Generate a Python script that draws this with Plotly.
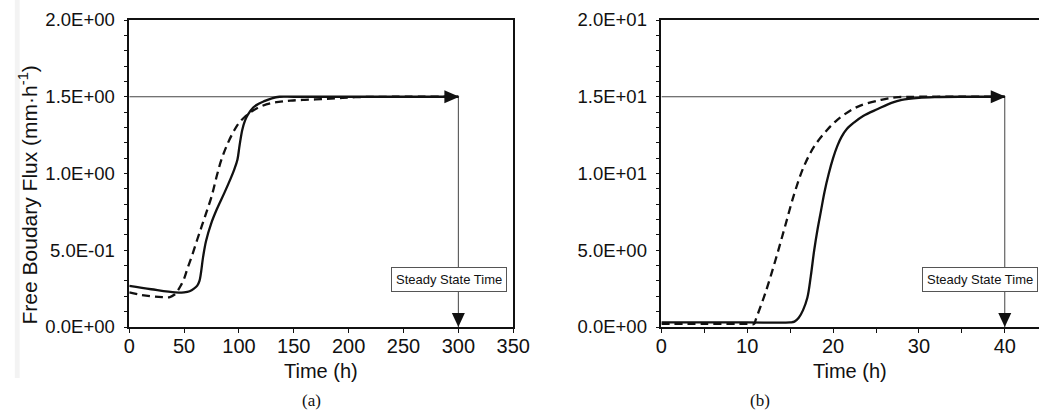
import plotly.graph_objects as go

# ---------------- data ----------------
# Panel (a)
a_solid_t = [0, 20, 42, 50, 55, 59, 62, 64, 67.4, 70, 74.8, 80, 86.6, 92, 95.6, 98.6, 100.5, 103, 105.5, 108, 113, 118, 122.4, 130, 137, 150, 200, 250, 300]
a_solid_v = [0.268, 0.246, 0.225, 0.226, 0.233, 0.25, 0.27, 0.30, 0.46, 0.56, 0.677, 0.77, 0.872, 0.96, 1.024, 1.09, 1.18, 1.284, 1.345, 1.382, 1.43, 1.455, 1.469, 1.49, 1.50, 1.50, 1.50, 1.50, 1.50]
a_dash_t = [0, 10, 20, 30, 37, 41, 44, 47, 50, 53, 57, 62, 66, 70, 75, 80, 84, 90, 96, 100, 104, 109, 114, 121, 129, 138, 147, 160, 175, 190, 206, 240, 300]
a_dash_v = [0.225, 0.21, 0.2, 0.195, 0.195, 0.21, 0.235, 0.27, 0.315, 0.38, 0.46, 0.57, 0.655, 0.74, 0.85, 0.99, 1.09, 1.2, 1.285, 1.33, 1.36, 1.39, 1.415, 1.44, 1.458, 1.468, 1.475, 1.48, 1.484, 1.49, 1.497, 1.5, 1.5]

# Panel (b)
b_solid_t = [0, 5, 10, 15, 15.5, 16, 16.5, 17, 17.4, 17.8, 18.2, 18.6, 19.0, 19.5, 20.0, 20.5, 21.0, 21.6, 22.5, 23.5, 25.2, 26.8, 28, 30, 32, 35, 40]
b_solid_v = [0.3, 0.3, 0.3, 0.3, 0.35, 0.6, 1.1, 1.9, 3.3, 5.0, 6.4, 7.6, 8.8, 10.0, 11.0, 11.8, 12.4, 12.9, 13.35, 13.75, 14.2, 14.6, 14.8, 14.93, 14.98, 15.0, 15.0]
b_dash_t = [0, 5, 10, 10.8, 11.0, 12.1, 13.3, 14.4, 15.5, 16.6, 17.8, 19.3, 20.3, 21.2, 22.9, 25.6, 27.6, 30, 35, 40]
b_dash_v = [0.2, 0.2, 0.2, 0.2, 0.5, 2.2, 4.38, 6.55, 8.72, 10.46, 11.76, 12.84, 13.4, 13.8, 14.36, 14.8, 14.97, 15.0, 15.0, 15.0]

# axes / ticks
a_x_ticks = [0, 50, 100, 150, 200, 250, 300, 350]
a_y_ticks = [0, 0.5, 1.0, 1.5, 2.0]
a_y_text = ["0.0E+00", "5.0E-01", "1.0E+00", "1.5E+00", "2.0E+00"]
b_x_ticks = [0, 10, 20, 30, 40]
b_y_ticks = [0, 5, 10, 15, 20]
b_y_text = ["0.0E+00", "5.0E+00", "1.0E+01", "1.5E+01", "2.0E+01"]

# steady state markers
a_ss_time, a_ss_flux = 300, 1.5
b_ss_time, b_ss_flux = 40, 15
label_ss = "Steady State Time"

# ---------------- figure ----------------
W, H = 1056, 417
FONT = "Liberation Sans, Arial, sans-serif"
INK = "#111111"

fig = go.Figure()

line_solid = dict(color=INK, width=2.3)
line_dash = dict(color=INK, width=2.3, dash="8px,5px")

for (xa, ya, t_ss, f_ss) in [("x", "y", a_ss_time, a_ss_flux), ("x2", "y2", b_ss_time, b_ss_flux)]:
    fig.add_trace(go.Scatter(x=[0, t_ss], y=[f_ss, f_ss], mode="lines",
                             line=dict(color="#444444", width=1), xaxis=xa, yaxis=ya,
                             showlegend=False, hoverinfo="skip"))
    fig.add_trace(go.Scatter(x=[t_ss, t_ss], y=[f_ss, 0], mode="lines",
                             line=dict(color="#444444", width=1), xaxis=xa, yaxis=ya,
                             showlegend=False, hoverinfo="skip"))

fig.add_trace(go.Scatter(x=a_dash_t, y=a_dash_v, mode="lines", line=line_dash,
                         line_shape="spline", xaxis="x", yaxis="y", showlegend=False))
fig.add_trace(go.Scatter(x=a_solid_t, y=a_solid_v, mode="lines", line=line_solid,
                         line_shape="spline", xaxis="x", yaxis="y", showlegend=False))
fig.add_trace(go.Scatter(x=b_dash_t, y=b_dash_v, mode="lines", line=line_dash,
                         line_shape="spline", xaxis="x2", yaxis="y2", showlegend=False))
fig.add_trace(go.Scatter(x=b_solid_t, y=b_solid_v, mode="lines", line=line_solid,
                         line_shape="spline", xaxis="x2", yaxis="y2", showlegend=False))

shapes = []
for (xr, yr, t_ss, f_ss) in [("x", "y", a_ss_time, a_ss_flux), ("x2", "y2", b_ss_time, b_ss_flux)]:
    shapes.append(dict(type="path", xref=xr, yref=yr, xsizemode="pixel", ysizemode="pixel",
                       xanchor=t_ss, yanchor=f_ss, path="M 1 0 L -14 6.5 L -14 -6.5 Z",
                       fillcolor=INK, line=dict(width=0)))
    shapes.append(dict(type="path", xref=xr, yref=yr, xsizemode="pixel", ysizemode="pixel",
                       xanchor=t_ss, yanchor=0, path="M 0 0 L -6.5 14 L 6.5 14 Z",
                       fillcolor=INK, line=dict(width=0)))
# faint scan border at far left
shapes.append(dict(type="rect", xref="paper", yref="paper", x0=9 / W, x1=14 / W,
                   y0=(327 - 378) / 307, y1=1 + 20 / 307,
                   fillcolor="#f3f3f3", line=dict(width=0), layer="below"))

common_axis = dict(showline=True, linecolor=INK, linewidth=1.5, ticks="outside",
                   ticklen=4, tickwidth=1.2, tickcolor=INK, showgrid=False, zeroline=False)
xfont = dict(family=FONT, size=20, color=INK)
yfont = dict(family=FONT, size=18.5, color=INK)

fig.update_layout(
    width=W, height=H,
    margin=dict(l=0, r=0, t=20, b=90),
    plot_bgcolor="white", paper_bgcolor="white",
    xaxis=dict(common_axis, domain=[126 / W, 518.5 / W], range=[0, 350], mirror=True,
               tickmode="array", tickvals=a_x_ticks, anchor="y", ticklabelstandoff=-4, tickfont=xfont),
    yaxis=dict(common_axis, domain=[0, 1], range=[0, 2.0], mirror=True,
               tickmode="array", tickvals=a_y_ticks, ticktext=a_y_text, anchor="x", tickfont=yfont,
               minor=dict(dtick=0.1, tick0=0, ticks="outside", ticklen=4, tickcolor=INK, tickwidth=1.2),
               ticklabelstandoff=5),
    xaxis2=dict(common_axis, domain=[670 / W, 1.0], range=[0, 386 / 8.775], mirror=True,
                tickmode="array", tickvals=b_x_ticks, anchor="y2", ticklabelstandoff=-4, tickfont=xfont,
                minor=dict(dtick=5, tick0=0, ticks="outside", ticklen=4, tickcolor=INK, tickwidth=1.2)),
    yaxis2=dict(common_axis, domain=[0, 1], range=[0, 20], mirror=False,
                tickmode="array", tickvals=b_y_ticks, ticktext=b_y_text, anchor="x2", tickfont=yfont,
                minor=dict(dtick=1, tick0=0, ticks="outside", ticklen=4, tickcolor=INK, tickwidth=1.2),
                ticklabelstandoff=5),
    shapes=shapes,
)

ann = []
for (xr, yr, xc, yc) in [("x", "y", 291.6, 0.308), ("x2", "y2", 37.15, 3.08)]:
    ann.append(dict(text=label_ss, xref=xr, yref=yr, x=xc, y=yc, showarrow=False,
                    font=dict(family=FONT, size=13, color=INK), bgcolor="white",
                    bordercolor="#555555", borderwidth=1, borderpad=4))
ann.append(dict(text="Time (h)", xref="paper", yref="paper", x=(126 + 518.5) / 2 / W, y=-(371 - 327) / 307,
                showarrow=False, font=dict(family=FONT, size=20, color=INK), xanchor="center", yanchor="middle"))
ann.append(dict(text="Time (h)", xref="paper", yref="paper", x=863 / W, y=-(371 - 327) / 307,
                showarrow=False, font=dict(family=FONT, size=20, color=INK), xanchor="center", yanchor="middle"))
ann.append(dict(text="Free Boudary Flux (mm·h<sup>-1</sup>)", xref="paper", yref="paper",
                x=23 / W, y=(327 - 195) / 307, textangle=-90, showarrow=False,
                font=dict(family=FONT, size=21, color=INK), xanchor="center", yanchor="middle"))
ann.append(dict(text="(a)", xref="paper", yref="paper", x=312 / W, y=-(400 - 327) / 307,
                showarrow=False, font=dict(family="Liberation Serif, Times New Roman, serif", size=17, color=INK),
                xanchor="center", yanchor="middle"))
ann.append(dict(text="(b)", xref="paper", yref="paper", x=771 / W, y=-(400 - 327) / 307,
                showarrow=False, font=dict(family="Liberation Serif, Times New Roman, serif", size=17, color=INK),
                xanchor="center", yanchor="middle"))
fig.update_layout(annotations=ann)

fig.write_html("out.html", config={"displayModeBar": False},
               post_script="document.body.style.margin='0px';document.body.style.overflow='hidden';")
